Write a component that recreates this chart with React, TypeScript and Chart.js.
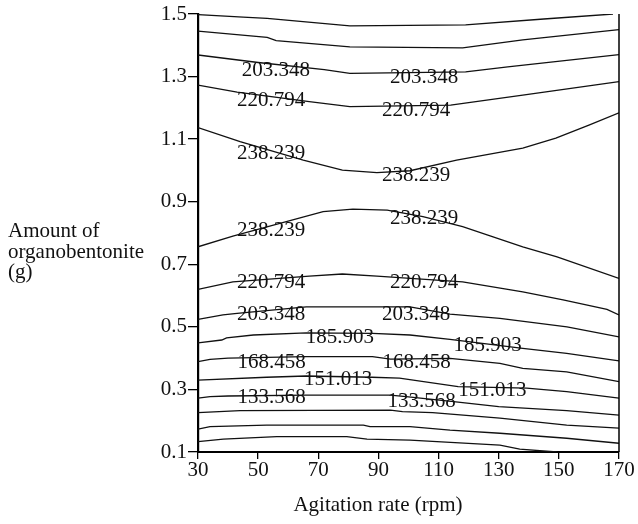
import React, { useEffect, useRef } from 'react';
import { Chart, registerables } from 'chart.js';

Chart.register(...registerables);

const FONT = '"Liberation Serif", "Times New Roman", serif';

const xTitle = 'Agitation rate (rpm)';
const yTitleLines = ['Amount of', 'organobentonite', '(g)'];

const xMin = 30;
const xMax = 170;
const xStep = 20;
const yMin = 0.1;
const yMax = 1.5;
const yStep = 0.2;

// contour lines, top to bottom: [agitation rate, amount]
const contour01 = [[30, 1.498], [45, 1.49], [53, 1.486], [80.5, 1.462], [119, 1.465], [145, 1.484], [168, 1.5]];
const contour02 = [[30, 1.445], [53, 1.425], [56, 1.415], [80.5, 1.395], [118, 1.392], [138, 1.417], [170, 1.45]];
const contour03 = [[30, 1.369], [50, 1.345], [72, 1.322], [80.5, 1.31], [119, 1.315], [133, 1.331], [170, 1.37]];
const contour04 = [[30, 1.273], [43, 1.25], [67, 1.22], [80.5, 1.204], [114, 1.209], [138, 1.241], [170, 1.284]];
const contour05 = [[30, 1.137], [44, 1.092], [65, 1.033], [78, 1.001], [89.5, 0.993], [100.5, 0.999], [116, 1.033], [138, 1.071], [149, 1.103], [160, 1.145], [170, 1.184]];
const contour06 = [[30, 0.756], [41.6, 0.79], [71.6, 0.868], [81.5, 0.876], [92.9, 0.873], [104.8, 0.852], [118, 0.82], [138, 0.756], [149.4, 0.724], [170, 0.655]];
const contour07 = [[30, 0.62], [41.6, 0.644], [67, 0.662], [78, 0.669], [89.5, 0.662], [118, 0.644], [138, 0.612], [151.4, 0.586], [166, 0.556], [170, 0.538]];
const contour08 = [[30, 0.524], [38.3, 0.538], [43, 0.543], [66, 0.564], [100.5, 0.564], [113.8, 0.541], [130.4, 0.527], [152.7, 0.5], [170, 0.468]];
const contour09 = [[30, 0.449], [37.9, 0.458], [39.5, 0.465], [48.4, 0.474], [66, 0.481], [88, 0.479], [100.5, 0.474], [113.8, 0.46], [138, 0.431], [152.6, 0.415], [170, 0.391]];
const contour10 = [[30, 0.389], [34, 0.396], [40, 0.4], [66, 0.405], [88, 0.405], [94, 0.397], [113.8, 0.399], [130.4, 0.383], [138, 0.367], [152.6, 0.356], [170, 0.325]];
const contour11 = [[30, 0.33], [52.8, 0.339], [66, 0.343], [87.8, 0.339], [97, 0.336], [116.5, 0.309], [139.3, 0.304], [152.6, 0.293], [170, 0.272]];
const contour12 = [[30, 0.272], [34, 0.277], [40, 0.279], [66, 0.282], [94, 0.282], [100, 0.276], [115, 0.261], [130, 0.245], [152.6, 0.232], [170, 0.218]];
const contour13 = [[30, 0.226], [44, 0.232], [94, 0.234], [98, 0.229], [108, 0.226], [130.4, 0.208], [152.6, 0.186], [170, 0.176]];
const contour14 = [[30, 0.173], [34, 0.181], [52.8, 0.186], [85, 0.186], [87.2, 0.181], [100.5, 0.181], [113.8, 0.17], [130.4, 0.16], [152.6, 0.144], [170, 0.128]];
const contour15 = [[30, 0.133], [38.4, 0.141], [56.2, 0.149], [79.5, 0.149], [86.2, 0.141], [100.5, 0.138], [130.4, 0.122], [137, 0.109], [149.3, 0.1]];

const contours = [
  contour01, contour02, contour03, contour04, contour05,
  contour06, contour07, contour08, contour09, contour10,
  contour11, contour12, contour13, contour14, contour15,
];

// contour labels (text centre in data coordinates)
const labelText = [
  '203.348', '203.348', '220.794', '220.794', '238.239', '238.239',
  '238.239', '238.239', '220.794', '220.794', '203.348', '203.348',
  '185.903', '185.903', '168.458', '168.458', '151.013', '151.013',
  '133.568', '133.568',
];
const labelX = [
  55.9, 105.2, 54.3, 102.5, 54.3, 102.5,
  54.3, 105.2, 54.3, 105.2, 54.3, 102.5,
  77.2, 126.3, 54.5, 102.7, 76.6, 127.9,
  54.5, 104.4,
];
const labelY = [
  1.318, 1.297, 1.223, 1.193, 1.054, 0.985,
  0.808, 0.845, 0.642, 0.642, 0.541, 0.541,
  0.466, 0.439, 0.386, 0.386, 0.333, 0.298,
  0.274, 0.263,
];

const textPlugin = {
  id: 'contourTexts',
  afterDraw(chart: any) {
    const { ctx, chartArea, scales } = chart;
    const xs = scales.x;
    const ys = scales.y;
    ctx.save();
    // right frame line
    ctx.strokeStyle = '#000';
    ctx.lineWidth = 1.5;
    ctx.beginPath();
    ctx.moveTo(chartArea.right, chartArea.top);
    ctx.lineTo(chartArea.right, chartArea.bottom);
    ctx.stroke();

    ctx.fillStyle = '#111';
    ctx.font = `21px ${FONT}`;
    ctx.textAlign = 'center';
    ctx.textBaseline = 'middle';
    for (let i = 0; i < labelText.length; i++) {
      ctx.fillText(labelText[i], xs.getPixelForValue(labelX[i]), ys.getPixelForValue(labelY[i]));
    }

    ctx.textAlign = 'left';
    ctx.textBaseline = 'alphabetic';
    yTitleLines.forEach((t, i) => ctx.fillText(t, 8, 237 + i * 20.5));

    ctx.textAlign = 'center';
    ctx.fillText(xTitle, 378, 511);
    ctx.restore();
  },
};

export default function App() {
  const ref = useRef<HTMLCanvasElement | null>(null);

  useEffect(() => {
    if (!ref.current) return;
    const chart = new Chart(ref.current, {
      type: 'scatter',
      data: {
        datasets: contours.map((c, i) => ({
          label: 'c' + i,
          data: c.map(([x, y]) => ({ x, y })),
          showLine: true,
          borderColor: '#111',
          borderWidth: 1.3,
          pointRadius: 0,
          pointHoverRadius: 0,
          tension: 0,
          fill: false,
        })),
      },
      options: {
        animation: false,
        responsive: true,
        maintainAspectRatio: false,
        events: [],
        layout: { padding: { left: 0, right: 19, top: 14, bottom: 0 } },
        plugins: {
          legend: { display: false },
          tooltip: { enabled: false },
          title: { display: false },
        },
        scales: {
          x: {
            type: 'linear',
            min: xMin,
            max: xMax,
            ticks: {
              stepSize: xStep,
              color: '#111',
              font: { family: FONT, size: 21 },
              padding: -1,
              maxRotation: 0,
              autoSkip: false,
            },
            grid: { drawOnChartArea: false, drawTicks: true, tickLength: 7, color: '#000', lineWidth: 1.3 },
            border: { display: true, color: '#000', width: 2 },
            afterFit(scale: any) {
              scale.height = 72;
              scale.paddingLeft = 0;
              scale.paddingRight = 0;
            },
          },
          y: {
            type: 'linear',
            min: yMin,
            max: yMax,
            ticks: {
              stepSize: yStep,
              color: '#111',
              font: { family: FONT, size: 21 },
              padding: 1,
              autoSkip: false,
              callback: (v: any) => Number(v).toFixed(1),
            },
            grid: { drawOnChartArea: false, drawTicks: true, tickLength: 10, color: '#000', lineWidth: 1.3 },
            border: { display: true, color: '#000', width: 2.2 },
            afterFit(scale: any) {
              scale.width = 198;
              scale.paddingTop = 0;
              scale.paddingBottom = 0;
            },
          },
        },
      },
      plugins: [textPlugin],
    });
    return () => chart.destroy();
  }, []);

  return (
    <div style={{ position: 'absolute', left: 0, top: 0, width: 638, height: 524 }}>
      <canvas ref={ref} />
    </div>
  );
}
